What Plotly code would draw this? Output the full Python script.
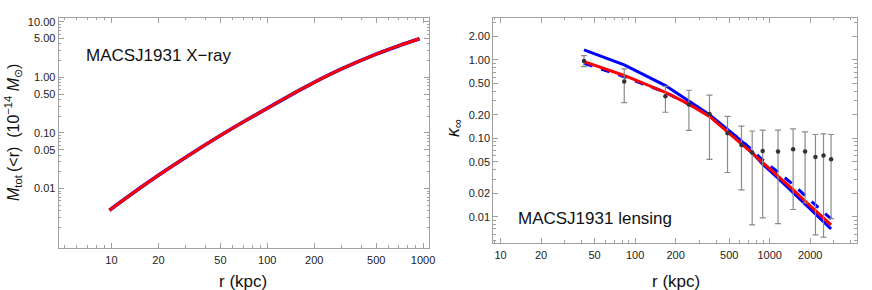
import plotly.graph_objects as go

# ---- Left panel: X-ray total mass profile ----
r_xray = [9.7, 15, 20, 30, 50, 70, 100, 150, 200, 300, 500, 700, 948]
m_xray = [0.00405, 0.00986, 0.0173, 0.0366, 0.0897, 0.157, 0.279, 0.528, 0.814, 1.417, 2.615, 3.72, 4.96]

# ---- Right panel: lensing convergence ----
r_lens = [41.7, 83, 168, 251, 357, 486, 617, 741, 887, 1153, 1493, 1832, 2188, 2512, 2858]
k_obs = [0.97, 0.53, 0.343, 0.269, 0.205, 0.116, 0.082, 0.066, 0.069, 0.068, 0.0725, 0.068, 0.058, 0.0604, 0.0542]
k_hi = [1.13, 0.77, 0.46, 0.41, 0.356, 0.191, 0.143, 0.124, 0.127, 0.127, 0.132, 0.121, 0.112, 0.114, 0.112]
k_lo = [0.82, 0.286, 0.215, 0.126, 0.054, 0.0367, 0.022, 0.0079, 0.0097, 0.0082, 0.0124, 0.015, 0.0059, 0.0055, 0.0095]

k_red = [0.95, 0.633, 0.386, 0.273, 0.19, 0.121, 0.087, 0.065, 0.049, 0.033, 0.0222, 0.0158, 0.012, 0.0098, 0.0079]
k_blue = [1.34, 0.865, 0.47, 0.30, 0.20, 0.130, 0.092, 0.066, 0.047, 0.031, 0.0205, 0.0144, 0.0108, 0.0087, 0.0070]
k_blue_dash = [0.906, 0.61, 0.385, 0.272, 0.195, 0.126, 0.094, 0.071, 0.053, 0.037, 0.0258, 0.0186, 0.0143, 0.0116, 0.0094]

xl_ticks = [10, 20, 50, 100, 200, 500, 1000]
xr_ticks = [10, 20, 50, 100, 200, 500, 1000, 2000]
yl_ticks = [10, 5, 1, 0.5, 0.1, 0.05, 0.01]
yl_text = ["10.00", "5.00", "1.00", "0.50", "0.10", "0.05", "0.01"]
yr_ticks = [2, 1, 0.5, 0.2, 0.1, 0.05, 0.02, 0.01]
yr_text = ["2.00", "1.00", "0.50", "0.20", "0.10", "0.05", "0.02", "0.01"]

W, H = 872, 290
RED = "rgb(255,0,0)"
BLUE = "rgb(0,0,255)"
FONT = "Liberation Sans, Arial, Helvetica, sans-serif"

def minor_vals(lo, hi):
    vals = []
    for e in range(lo, hi + 1):
        for m in range(2, 10):
            vals.append(m * 10 ** e)
    return vals

fig = go.Figure()

# left
fig.add_trace(go.Scatter(x=r_xray, y=m_xray, mode="lines", line=dict(color=BLUE, width=3.6, shape="spline"),
                         xaxis="x", yaxis="y", showlegend=False))
fig.add_trace(go.Scatter(x=r_xray, y=m_xray, mode="lines", line=dict(color=RED, width=3, shape="spline"),
                         xaxis="x", yaxis="y", showlegend=False))

# right
fig.add_trace(go.Scatter(x=r_lens, y=k_blue, mode="lines", line=dict(color=BLUE, width=3),
                         xaxis="x2", yaxis="y2", showlegend=False))
fig.add_trace(go.Scatter(x=r_lens, y=k_blue_dash, mode="lines", line=dict(color=BLUE, width=3, dash="dash"),
                         xaxis="x2", yaxis="y2", showlegend=False))
fig.add_trace(go.Scatter(x=r_lens, y=k_red, mode="lines", line=dict(color=RED, width=3),
                         xaxis="x2", yaxis="y2", showlegend=False))
fig.add_trace(go.Scatter(
    x=r_lens, y=k_obs, mode="markers",
    marker=dict(color="#333333", size=4.5),
    error_y=dict(type="data", symmetric=False,
                 array=[h - v for h, v in zip(k_hi, k_obs)],
                 arrayminus=[v - l for v, l in zip(k_obs, k_lo)],
                 color="#8a8a8a", thickness=1.2, width=3),
    xaxis="x2", yaxis="y2", showlegend=False))

frame = dict(showline=True, linecolor="#a0a0a0", linewidth=1, mirror="ticks",
             ticks="inside", ticklen=5, tickcolor="#a0a0a0", tickwidth=1,
             showgrid=False, zeroline=False, type="log",
             tickfont=dict(family=FONT, size=11, color="#222222"))

def minor(lo, hi):
    return dict(tickmode="array", tickvals=minor_vals(lo, hi), ticks="inside",
                ticklen=2.5, tickcolor="#a0a0a0", tickwidth=1, showgrid=False)

fig.update_layout(
    width=W, height=H, margin=dict(l=0, r=0, t=0, b=0),
    paper_bgcolor="white", plot_bgcolor="white",
    xaxis=dict(frame, domain=[59 / W, 432.3 / W], range=[0.6605, 3.04],
               tickmode="array", tickvals=xl_ticks, ticktext=[str(v) for v in xl_ticks],
               minor=minor(0, 3), anchor="y", ticklabelstandoff=2),
    yaxis=dict(frame, domain=[(H - 247.7) / H, (H - 16) / H], range=[-3.071, 1.071],
               tickmode="array", tickvals=yl_ticks, ticktext=yl_text,
               minor=minor(-3, 1), anchor="x", ticklabelstandoff=0),
    xaxis2=dict(frame, domain=[496.7 / W, 862.7 / W], range=[0.946, 3.647],
                tickmode="array", tickvals=xr_ticks, ticktext=[str(v) for v in xr_ticks],
                minor=minor(0, 3), anchor="y2", ticklabelstandoff=2),
    yaxis2=dict(frame, domain=[(H - 242.3) / H, (H - 16) / H], range=[-2.329, 0.535],
                tickmode="array", tickvals=yr_ticks, ticktext=yr_text,
                minor=minor(-3, 0), anchor="x2", ticklabelstandoff=0),
)

def px_x(x):
    return x / W

def px_y(y):
    return 1 - y / H

ann = [
    dict(text="MACSJ1931 X\u2212ray", x=px_x(85), y=px_y(54), xanchor="left", yanchor="middle", size=17),
    dict(text="MACSJ1931 lensing", x=px_x(520), y=px_y(217.5), xanchor="left", yanchor="middle", size=17),
    dict(text="r (kpc)", x=px_x(245), y=px_y(281), xanchor="center", yanchor="middle", size=17),
    dict(text="r (kpc)", x=px_x(681), y=px_y(281), xanchor="center", yanchor="middle", size=17),
]
for a in ann:
    fig.add_annotation(text=a["text"], x=a["x"], y=a["y"], xref="paper", yref="paper",
                       xanchor=a["xanchor"], yanchor=a["yanchor"], showarrow=False,
                       font=dict(family=FONT, size=a["size"], color="#111111"))

fig.add_annotation(text="<i>M</i><sub>tot</sub>\u2009(&lt;r)  (10<sup>\u221214</sup> <i>M</i><sub>\u2299</sub>)",
                   x=px_x(13), y=px_y(131), xref="paper", yref="paper", textangle=-90,
                   xanchor="center", yanchor="middle", showarrow=False,
                   font=dict(family=FONT, size=16, color="#111111"))
fig.add_annotation(text="<i>\u03ba</i><sub>\u221e</sub>",
                   x=px_x(457), y=px_y(127), xref="paper", yref="paper", textangle=-90,
                   xanchor="center", yanchor="middle", showarrow=False,
                   font=dict(family=FONT, size=18, color="#111111"))

fig.write_html("out.html", config={"displayModeBar": False},
               post_script="document.body.style.margin='0';document.body.style.overflow='hidden';")
